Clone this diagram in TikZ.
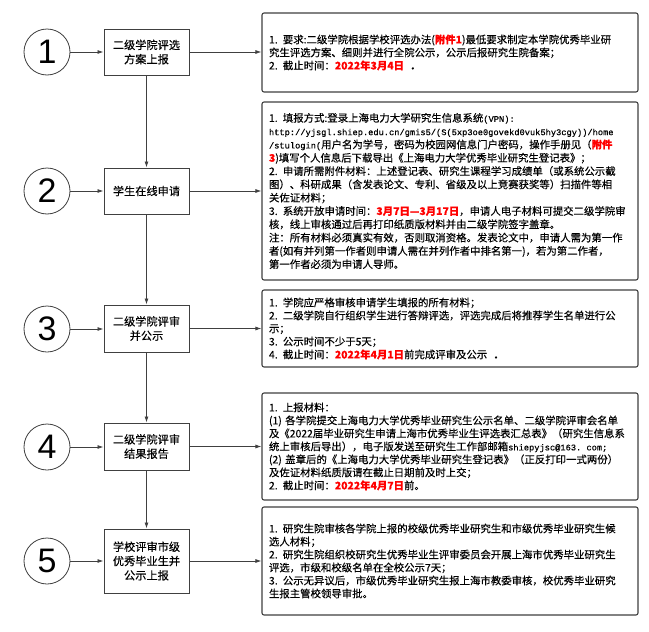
\documentclass[tikz,border=0pt]{standalone}
\usepackage{fontspec}
\setmainfont{Noto Sans CJK SC}[FakeBold=0.3]
\newfontfamily\numfont{Liberation Sans}
\newfontfamily\monofont{Liberation Mono}[FakeBold=0.3]
\usetikzlibrary{arrows.meta}

\definecolor{linegray}{HTML}{404040}
\newcommand\redtxt[1]{{\color{red}\bfseries #1}}
\newcommand\urltxt[1]{{\monofont\fontsize{8.7}{13}\selectfont #1}}

\begin{document}
\begin{tikzpicture}[x=1pt,y=-1pt,>={Latex[length=6pt,width=4pt]},
  num/.style={circle,draw=linegray,line width=0.8pt,minimum size=46pt,inner sep=0pt,
    font=\numfont\fontsize{34}{34}\selectfont},
  stepbox/.style={draw=linegray,line width=1pt,minimum width=85pt,align=center,
    font=\fontsize{11.2}{14.3}\selectfont},
  notebox/.style={draw=linegray,line width=1.1pt,rounded corners=2pt,minimum width=376pt,
    text width=362pt,align=left,font=\fontsize{10.4}{13}\selectfont},
  link/.style={->,draw=linegray,line width=0.8pt}]

% white background
\fill[white] (0,0) rectangle (649,632);
\useasboundingbox (0,0) rectangle (649,632);

% step numbers
\node[num] (n1) at (47,52) {1};
\node[num] (n2) at (47,191) {2};
\node[num] (n3) at (47,329) {3};
\node[num] (n4) at (47,447) {4};
\node[num] (n5) at (47,561) {5};

% steps
\node[stepbox,minimum height=46pt] (s1) at (146.5,52) {二级学院评选\\方案上报};
\node[stepbox,minimum height=46pt] (s2) at (146.5,191) {学生在线申请};
\node[stepbox,minimum height=47pt] (s3) at (146.5,328.5) {二级学院评审\\并公示};
\node[stepbox,minimum height=47pt] (s4) at (146.5,446.5) {二级学院评审\\结果报告};
\node[stepbox,minimum height=64pt] (s5) at (146.5,561) {学校评审市级\\优秀毕业生并\\公示上报};

% notes
\node[notebox,minimum height=79pt] (d1) at (450,52.5) {%
1. 要求:二级学院根据学校评选办法(\redtxt{附件1})最低要求制定本学院优秀毕业研\\
究生评选方案、细则并进行全院公示，公示后报研究生院备案；\\
2. 截止时间：\redtxt{2022年3月4日}~~\textbf{.}};

\node[notebox,minimum height=178pt,font=\fontsize{10.4}{13.3}\selectfont] (d2) at (450,191) {%
1. 填报方式:登录上海电力大学研究生信息系统\urltxt{(VPN):}\\
\urltxt{http://yjsgl.shiep.edu.cn/gmis5/(S(5xp3oe0govekd0vuk5hy3cgy))/home}\\
\urltxt{/stulogin(}用户名为学号，密码为校园网信息门户密码，操作手册见（\redtxt{附件}\\
\redtxt{3})填写个人信息后下载导出《上海电力大学优秀毕业研究生登记表》；\\
2. 申请所需附件材料：上述登记表、研究生课程学习成绩单（或系统公示截\\
图）、科研成果（含发表论文、专利、省级及以上竞赛获奖等）扫描件等相\\
关佐证材料；\\
3. 系统开放申请时间：\redtxt{3月7日—3月17日}，申请人电子材料可提交二级学院审\\
核，线上审核通过后再打印纸质版材料并由二级学院签字盖章。\\
注：所有材料必须真实有效，否则取消资格。发表论文中，申请人需为第一作\\
者(如有并列第一作者则申请人需在并列作者中排名第一)，若为第二作者，\\
第一作者必须为申请人导师。};

\node[notebox,minimum height=77pt] (d3) at (450,328.5) {%
1. 学院应严格审核申请学生填报的所有材料；\\
2. 二级学院自行组织学生进行答辩评选，评选完成后将推荐学生名单进行公\\
示；\\
3. 公示时间不少于5天；\\
4. 截止时间：\redtxt{2022年4月1日}前完成评审及公示~~\textbf{.}};

\node[notebox,minimum height=107pt] (d4) at (450,446.5) {%
1. 上报材料：\\
(1) 各学院提交上海电力大学优秀毕业研究生公示名单、二级学院评审会名单\\
及《2022届毕业研究生申请上海市优秀毕业生评选表汇总表》（研究生信息系\\
统上审核后导出），电子版发送至研究生工作部邮箱\urltxt{shiepyjsc@163. com;}\\
(2) 盖章后的《上海电力大学优秀毕业研究生登记表》（正反打印一式两份）\\
及佐证材料纸质版请在截止日期前及时上交；\\
2. 截止时间：\redtxt{2022年4月7日}前。};

\node[notebox,minimum height=108pt] (d5) at (450,561) {%
1. 研究生院审核各学院上报的校级优秀毕业研究生和市级优秀毕业研究生候\\
选人材料；\\
2. 研究生院组织校研究生优秀毕业生评审委员会开展上海市优秀毕业研究生\\
评选，市级和校级名单在全校公示7天；\\
3. 公示无异议后，市级优秀毕业研究生报上海市教委审核，校优秀毕业研究\\
生报主管校领导审批。};

% numbers to steps
\foreach \i in {1,...,5}
  \draw[link] (n\i) -- (n\i -| s\i.west);

% steps to notes
\foreach \i in {1,...,5}
  \draw[link] (s\i.east) -- (s\i.east -| d\i.west);

% step to step
\foreach \i/\j in {1/2,2/3,3/4,4/5}
  \draw[link] (s\i) -- (s\j);

\end{tikzpicture}
\end{document}
